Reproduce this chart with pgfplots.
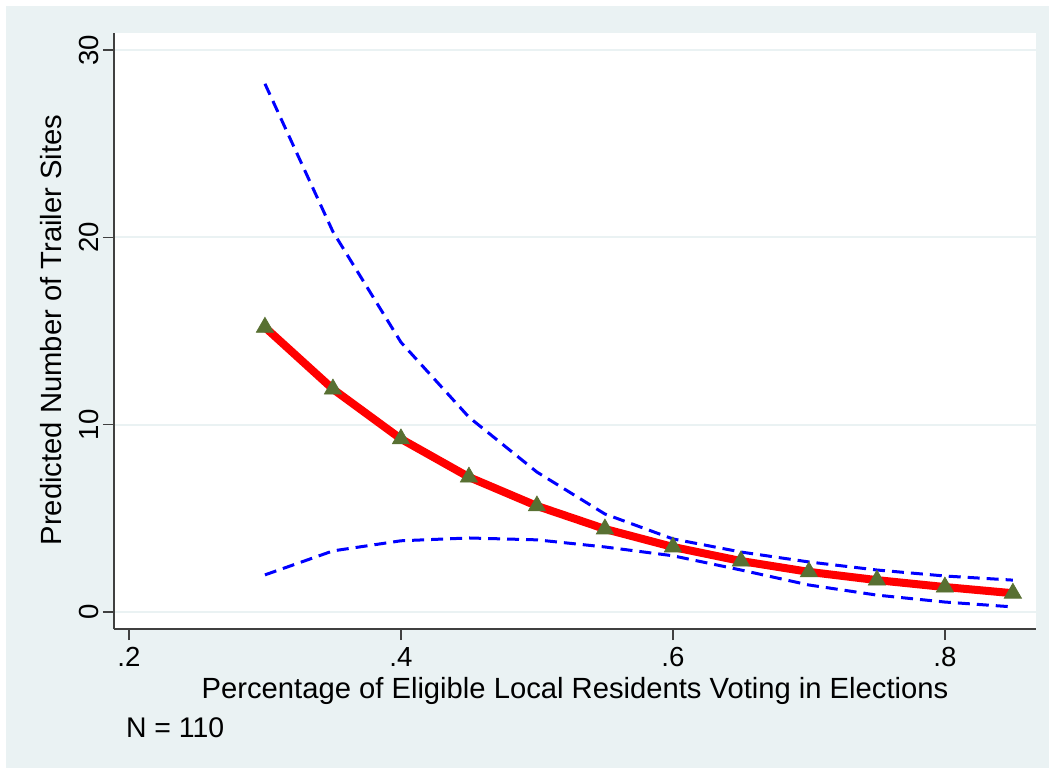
\documentclass[border=0pt]{standalone}
\usepackage{pgfplots}
\pgfplotsset{compat=1.18}
\usepackage{fontspec}
\setmainfont{Liberation Sans}
\definecolor{bgc}{RGB}{234,242,243}
\definecolor{mkgreen}{RGB}{88,112,50}
\begin{document}
\begin{tikzpicture}
% full image bounds (1px = 0.5pt); axis box 461pt x 298pt at origin
\fill[white] (-57pt,-69pt) rectangle (467.5pt,314.5pt);
\fill[bgc] (-54pt,-75pt) rectangle (475pt,311.5pt);
\begin{axis}[
  at={(0pt,0pt)}, anchor=south west,
  scale only axis, width=461pt, height=298pt,
  xmin=0.189, xmax=0.867, ymin=-0.91, ymax=30.91,
  axis background/.style={fill=white},
  axis x line*=bottom, axis y line*=left,
  axis line style={black!75, line width=0.6pt},
  tick align=outside, major tick length=5.5pt,
  tick style={black!75, line width=0.6pt},
  xtick={0.2,0.4,0.6,0.8}, xticklabels={.2,.4,.6,.8},
  ytick={0,10,20,30}, yticklabels={0,10,20,30},
  minor tick num=0,
  ymajorgrids, major grid style={bgc, line width=1pt},
  ticklabel style={font=\fontsize{13.8}{16}\selectfont},
  yticklabel style={xshift=1.5pt, rotate=90, anchor=south},
  xlabel={Percentage of Eligible Local Residents Voting in Elections},
  ylabel={Predicted Number of Trailer Sites},
  label style={font=\fontsize{14.6}{17}\selectfont},
  xlabel style={at={(axis description cs:0.5,-0.1158)}, anchor=base},
  ylabel style={at={(axis description cs:-0.0564,0.5017)}, anchor=base, rotate=0},
  clip=false,
]
\addplot[blue, line width=1.5pt, dash pattern=on 6pt off 3.5pt] coordinates {
(0.30,28.2) (0.35,20.3) (0.40,14.4) (0.45,10.4) (0.50,7.47) (0.55,5.23)
(0.60,3.90) (0.65,3.20) (0.70,2.67) (0.75,2.24) (0.80,1.92) (0.85,1.70)};
\addplot[blue, line width=1.5pt, dash pattern=on 6pt off 3.5pt] coordinates {
(0.30,1.98) (0.35,3.26) (0.40,3.80) (0.45,3.95) (0.50,3.85) (0.55,3.47)
(0.60,3.00) (0.65,2.24) (0.70,1.44) (0.75,0.90) (0.80,0.53) (0.85,0.27)};
\addplot[red, line width=4pt, mark=triangle*, mark size=5pt,
  mark options={fill=mkgreen, draw=mkgreen, line width=0.3pt}] coordinates {
(0.30,15.2) (0.35,11.9) (0.40,9.24) (0.45,7.20) (0.50,5.66) (0.55,4.43)
(0.60,3.47) (0.65,2.72) (0.70,2.14) (0.75,1.70) (0.80,1.33) (0.85,1.00)};
\node[anchor=base west, font=\fontsize{14.2}{17}\selectfont] at (axis description cs:0.0054,-0.1812) {N = 110};
\end{axis}
\pgfresetboundingbox
\path[use as bounding box] (-57pt,-69pt) rectangle (467.5pt,314.5pt);
\end{tikzpicture}
\end{document}
